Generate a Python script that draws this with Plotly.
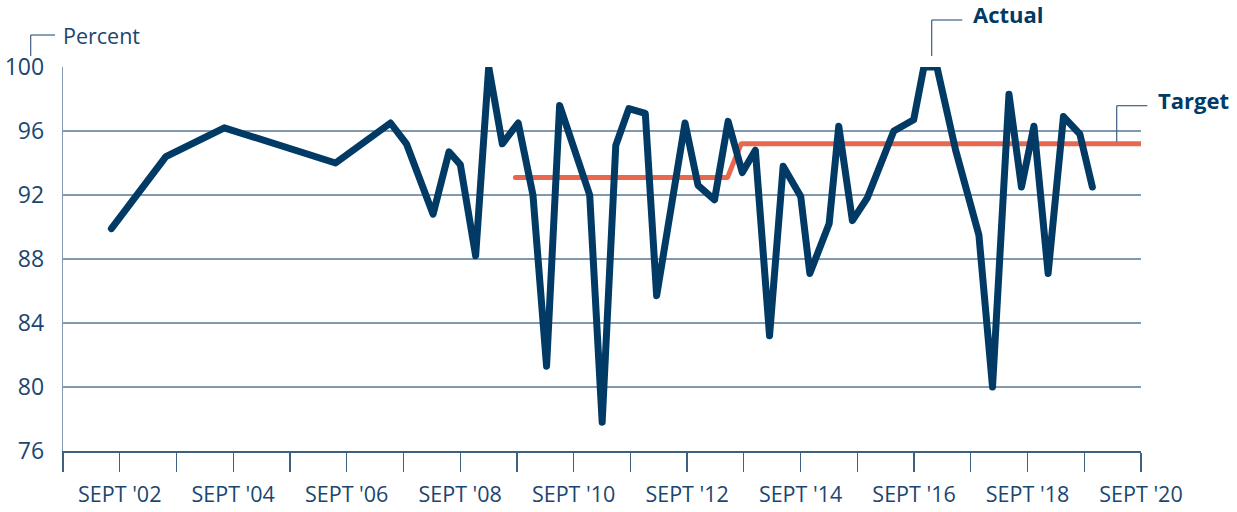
import plotly.graph_objects as go

# ---- data -------------------------------------------------------------
# time in decimal years (Sept = .667)
actual_x = [2002.52, 2003.48, 2004.51, 2006.47, 2007.44, 2007.72, 2008.19, 2008.47,
            2008.67, 2008.94, 2009.17, 2009.41, 2009.69, 2009.95, 2010.19, 2010.42,
            2010.95, 2011.17, 2011.41, 2011.64, 2011.93, 2012.13, 2012.63, 2012.86,
            2013.15, 2013.39, 2013.64, 2013.87, 2014.12, 2014.36, 2014.67, 2014.83,
            2015.17, 2015.34, 2015.58, 2015.84, 2016.31, 2016.66, 2016.84, 2017.07,
            2017.40, 2017.81, 2018.05, 2018.34, 2018.56, 2018.78, 2019.03, 2019.30,
            2019.59, 2019.81]
actual_y = [89.9, 94.4, 96.2, 94.0, 96.5, 95.2, 90.8, 94.7,
            93.9, 88.2, 100.0, 95.2, 96.5, 92.0, 81.3, 97.6,
            92.0, 77.8, 95.1, 97.4, 97.1, 85.7, 96.5, 92.6,
            91.7, 96.6, 93.4, 94.8, 83.2, 93.8, 91.9, 87.1,
            90.2, 96.3, 90.4, 91.8, 96.0, 96.7, 100.0, 100.0,
            94.8, 89.5, 80.0, 98.3, 92.5, 96.3, 87.1, 96.9,
            95.8, 92.5]

target_x = [2009.64, 2013.38, 2013.62, 2020.667]
target_y = [93.1, 93.1, 95.2, 95.2]

tick_years = list(range(2001, 2021))
tick_vals = [y + 0.667 for y in tick_years]
tick_text = [("SEPT '%02d" % (y % 100)) if y % 2 == 0 else "" for y in tick_years]
y_ticks = [76, 80, 84, 88, 92, 96, 100]

# ---- style ------------------------------------------------------------
NAVY = "#003a65"
ORANGE = "#e8684f"
GRID = "#8299ae"
AXIS = "#3d5f80"
TEXT = "#1a4670"
FONT = "Open Sans"

fig = go.Figure()
fig.add_trace(go.Scatter(x=target_x, y=target_y, mode="lines",
                         line=dict(color=ORANGE, width=5), hoverinfo="skip",
                         showlegend=False, cliponaxis=False))
fig.add_trace(go.Scatter(x=actual_x, y=actual_y, mode="lines",
                         line=dict(color=NAVY, width=7), hoverinfo="skip",
                         showlegend=False, cliponaxis=False))

fig.update_layout(
    width=1237, height=512,
    margin=dict(l=63, r=96, t=67, b=61),
    paper_bgcolor="white", plot_bgcolor="white",
    font=dict(family=FONT, color=TEXT, size=21),
    hovermode=False,
    xaxis=dict(range=[2001.667, 2020.667], tickvals=tick_vals, ticktext=tick_text,
               ticks="outside", ticklen=19, tickcolor=AXIS, tickwidth=1.3,
               showline=True, linecolor=AXIS, linewidth=1.5, showgrid=False,
               zeroline=False, ticklabelstandoff=5, automargin=False,
               tickfont=dict(family=FONT, size=21.5, color=TEXT)),
    yaxis=dict(range=[76, 100], tickvals=y_ticks, showgrid=True, gridcolor=GRID,
               gridwidth=1.3, showline=True, linecolor=GRID, linewidth=1.3,
               ticks="", zeroline=False, ticklabelstandoff=13, automargin=False,
               tickfont=dict(family=FONT, size=23, color=TEXT)),
)

def px_x(p):
    return (p - 63) / 1078.0

def px_y(p):
    return (451 - p) / 384.0

LC = "#3d5f80"
brackets = [
    # Percent
    ((30.7, 35), (55, 35)), ((30.7, 35), (30.7, 56)),
    # Actual
    ((931.7, 20), (962.3, 20)), ((931.7, 20), (931.7, 56)),
    # Target
    ((1116.7, 105.7), (1147.3, 105.7)), ((1116.7, 105.7), (1116.7, 141.7)),
]
for (a, b) in brackets:
    fig.add_shape(type="line", xref="paper", yref="paper",
                  x0=px_x(a[0]), y0=px_y(a[1]), x1=px_x(b[0]), y1=px_y(b[1]),
                  line=dict(color=LC, width=1.2))

fig.add_annotation(text="Percent", xref="paper", yref="paper", x=px_x(61), y=px_y(36),
                   xanchor="left", yanchor="middle", showarrow=False,
                   font=dict(family=FONT, size=21.5, color=TEXT))
fig.add_annotation(text="<b>Actual</b>", xref="paper", yref="paper", x=px_x(971), y=px_y(14),
                   xanchor="left", yanchor="middle", showarrow=False,
                   font=dict(family=FONT, size=22, color=NAVY))
fig.add_annotation(text="<b>Target</b>", xref="paper", yref="paper", x=px_x(1156), y=px_y(100),
                   xanchor="left", yanchor="middle", showarrow=False,
                   font=dict(family=FONT, size=22, color=NAVY))

fig.write_html("out.html",
               config={"displayModeBar": False, "staticPlot": True},
               post_script=(
                   "document.body.style.margin='0';document.body.style.overflow='hidden';"
                   "document.querySelectorAll('.scatterlayer path.js-line').forEach(function(p){"
                   "p.style.strokeLinejoin='round';p.style.strokeLinecap='round';});"))
